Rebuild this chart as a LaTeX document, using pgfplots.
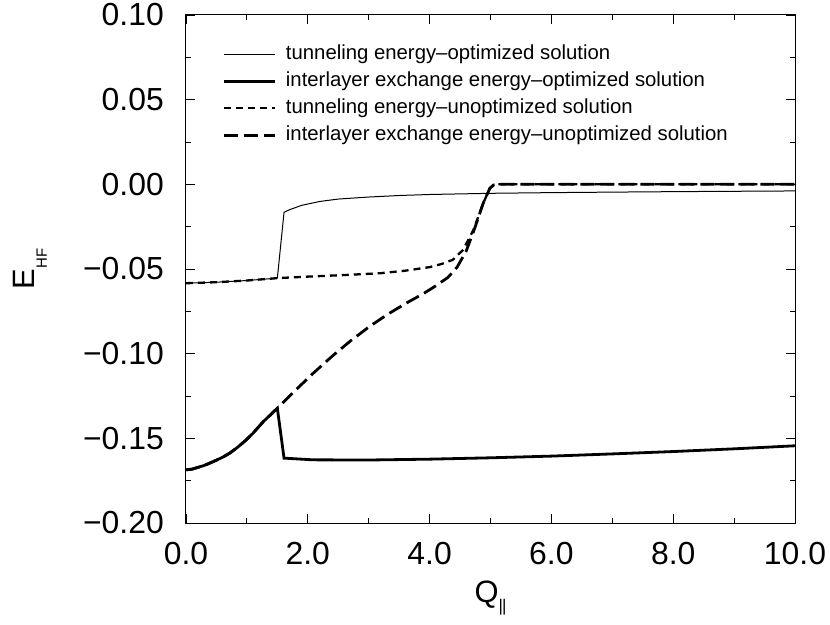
\documentclass[border=0pt]{standalone}
\usepackage{fontspec}
\setmainfont{Liberation Sans}
\usepackage{pgfplots}
\pgfplotsset{compat=1.18}
\begin{document}
\begin{tikzpicture}
\begin{axis}[
  at={(0,0)}, anchor=south west,
  width=609bp, height=508bp, scale only axis,
  xmin=0, xmax=10, ymin=-0.2, ymax=0.1,
  xtick={0,2,4,6,8,10}, xticklabels={0.0,2.0,4.0,6.0,8.0,10.0},
  minor xtick={1,3,5,7,9},
  ytick={-0.2,-0.15,-0.1,-0.05,0,0.05,0.1},
  yticklabels={−0.20,−0.15,−0.10,−0.05,0.00,0.05,0.10},
  minor ytick={-0.175,-0.125,-0.075,-0.025,0.025,0.075},
  tick align=inside,
  major tick length=9bp, minor tick length=5bp,
  tick style={line width=0.8bp, black},
  axis line style={line width=1bp},
  tick label style={font=\fontsize{32}{36}\selectfont, inner sep=0pt},
  xticklabel style={yshift=-19bp},
  yticklabel style={xshift=-22bp},
  xlabel={Q\raisebox{-9.4bp}{\fontsize{17}{20}\selectfont |\kern-1bp|}},
  ylabel={E\raisebox{-12bp}{\fontsize{15}{18}\selectfont HF}},
  xlabel style={at={(axis description cs:0.5,-0.156)}, anchor=base, inner sep=0pt, font=\fontsize{31}{36}\selectfont},
  ylabel style={at={(axis description cs:-0.24795,0.5)}, anchor=base, inner sep=0pt, font=\fontsize{31}{36}\selectfont},
  legend style={at={(axis description cs:0.0591,0.9498)}, anchor=north west, draw=none, fill=none, inner sep=0pt, column sep=10bp,
    font=\fontsize{20.4}{24}\selectfont,
    nodes={inner sep=0pt, inner ysep=3bp, text height=16bp, text depth=5bp}},
  legend cell align=left,
  legend image code/.code={\draw[#1] (0bp,0bp) -- (51bp,0bp);},
]
\addplot[black, line width=1bp] coordinates {
 (0,-0.0584) (0.5,-0.0578) (1.0,-0.0568) (1.5,-0.0554) (1.61,-0.0165) (1.7,-0.0150) (1.9,-0.0124)
 (2.2,-0.0101) (2.5,-0.0087) (3.0,-0.0075) (3.5,-0.0066) (4.0,-0.0060) (5.0,-0.0053) (6,-0.0049)
 (7,-0.0046) (8.1,-0.0043) (10,-0.0039)};
\addlegendentry{tunneling energy–optimized solution}
\addplot[black, line width=2.8bp] coordinates {
 (0,-0.1686) (0.1,-0.1682) (0.2,-0.1671) (0.3,-0.1660) (0.45,-0.1637) (0.6,-0.1612) (0.72,-0.1587)
 (0.85,-0.1552) (0.99,-0.1509) (1.1,-0.1470) (1.27,-0.1401) (1.4,-0.1357) (1.5,-0.1322)
 (1.61,-0.1617) (2.09,-0.1627) (3,-0.1628) (4,-0.1623) (5,-0.1615) (6,-0.1605) (7,-0.1592) (8,-0.1578)
 (9,-0.1562) (10,-0.1544)};
\addlegendentry{interlayer exchange energy–optimized solution}
\addplot[black, line width=2.3bp, dash pattern=on 7bp off 5bp] coordinates {
 (0,-0.0584) (0.5,-0.0578) (1.0,-0.0568) (1.5,-0.0554) (2.0,-0.0545) (2.64,-0.0535) (3.19,-0.0525)
 (3.6,-0.0510) (4.0,-0.0489) (4.2,-0.0470) (4.38,-0.0446) (4.55,-0.0387) (4.72,-0.0269) (4.88,-0.0112)
 (4.99,-0.0023) (5.05,-0.0004) (5.1,0) (10,0)};
\addlegendentry{tunneling energy–unoptimized solution}
\addplot[black, line width=2.8bp, dash pattern=on 14bp off 6bp] coordinates {
 (0,-0.1686) (0.1,-0.1682) (0.2,-0.1671) (0.3,-0.1660) (0.45,-0.1637) (0.6,-0.1612) (0.72,-0.1587)
 (0.85,-0.1552) (0.99,-0.1509) (1.1,-0.1470) (1.27,-0.1401) (1.4,-0.1357) (1.5,-0.1322)
 (1.8,-0.1215) (2.1,-0.1112) (2.4,-0.1015) (2.7,-0.0925) (3.0,-0.0843) (3.3,-0.0770) (3.6,-0.0705)
 (3.9,-0.0645) (4.1,-0.0600) (4.3,-0.0550) (4.45,-0.0490) (4.6,-0.0395) (4.75,-0.0250) (4.88,-0.0112)
 (4.99,-0.0023) (5.05,-0.0004) (5.1,0) (10,0)};
\addlegendentry{interlayer exchange energy–unoptimized solution}
\end{axis}
\pgfresetboundingbox
\path (-186bp,-102bp) rectangle (644bp,523bp);
\end{tikzpicture}
\end{document}
